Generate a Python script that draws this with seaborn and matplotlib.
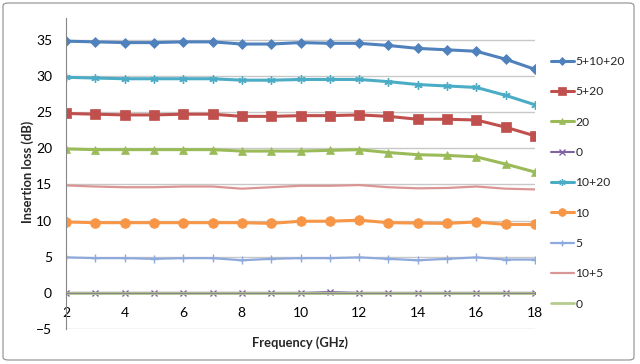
import numpy as np
import pandas as pd
import matplotlib
matplotlib.use("Agg")
import matplotlib.pyplot as plt
from matplotlib.patches import FancyBboxPatch
import seaborn as sns

# data
freq = [2, 3, 4, 5, 6, 7, 8, 9, 10, 11, 12, 13, 14, 15, 16, 17, 18]

s_5_10_20 = [34.8, 34.7, 34.6, 34.6, 34.7, 34.7, 34.4, 34.4, 34.6, 34.5, 34.5, 34.2, 33.8, 33.6, 33.4, 32.3, 30.9]
s_5_20 = [24.8, 24.7, 24.6, 24.6, 24.7, 24.7, 24.4, 24.4, 24.5, 24.5, 24.6, 24.4, 24.0, 24.0, 23.9, 22.9, 21.7]
s_20 = [19.9, 19.8, 19.8, 19.8, 19.8, 19.8, 19.6, 19.6, 19.6, 19.7, 19.8, 19.4, 19.1, 19.0, 18.8, 17.8, 16.7]
s_0_a = [0.0, 0.0, 0.0, 0.0, 0.0, 0.0, 0.0, 0.0, 0.0, 0.1, 0.0, 0.0, 0.0, 0.0, 0.0, 0.0, 0.0]
s_10_20 = [29.8, 29.7, 29.6, 29.6, 29.6, 29.6, 29.4, 29.4, 29.5, 29.5, 29.5, 29.2, 28.8, 28.6, 28.4, 27.3, 26.0]
s_10 = [9.8, 9.7, 9.7, 9.7, 9.7, 9.7, 9.7, 9.6, 9.9, 9.9, 10.05, 9.7, 9.65, 9.6, 9.8, 9.45, 9.45]
s_5 = [4.9, 4.8, 4.8, 4.7, 4.8, 4.8, 4.5, 4.7, 4.8, 4.8, 4.9, 4.7, 4.5, 4.7, 4.9, 4.6, 4.6]
s_10_5 = [14.85, 14.7, 14.6, 14.6, 14.7, 14.7, 14.4, 14.6, 14.8, 14.8, 14.9, 14.6, 14.45, 14.5, 14.7, 14.4, 14.3]
s_0_b = [0.0] * 17

labels = ["5+10+20", "5+20", "20", "0", "10+20", "10", "5", "10+5", "0"]
series = [s_5_10_20, s_5_20, s_20, s_0_a, s_10_20, s_10, s_5, s_10_5, s_0_b]
colors = ["#4F81BD", "#C0504D", "#9BBB59", "#8064A2", "#4BACC6",
          "#F79646", "#8EA9DB", "#D99694", "#B5CC8E"]
markers = ["D", "s", "^", "x", (6, 2, 0), "o", "+", None, None]
msizes = [5, 7, 6, 5, 6, 7, 6, 0, 0]
lwidths = [2.2, 2.2, 2.2, 1.5, 2.2, 2.2, 1.6, 1.6, 2.0]

sns.set_style("white")
plt.rcParams["font.family"] = ["Lato", "DejaVu Sans"]

fig = plt.figure(figsize=(6.4, 3.64), dpi=100)
ax = fig.add_axes([66 / 640, 1 - 329 / 364, 469 / 640, 311 / 364])

for lab, vals, c, m, ms, lw in zip(labels, series, colors, markers, msizes, lwidths):
    df = pd.DataFrame({"freq": freq, "loss": vals})
    sns.lineplot(data=df, x="freq", y="loss", ax=ax, color=c, marker=m,
                 markersize=ms, linewidth=lw, label=lab,
                 markeredgecolor=c, markeredgewidth=1.0 if m in ["x", "+", (6, 2, 0)] else 0.5)

ax.set_xlim(2, 18)
ax.set_ylim(-5, 38)
ax.set_xticks(range(2, 19, 2))
ax.set_yticks(range(-5, 36, 5))
for y in range(-5, 36, 5):
    ax.axhline(y, color="#C8C8C8", lw=1.0, zorder=0)

for s in ["top", "right"]:
    ax.spines[s].set_visible(False)
ax.spines["bottom"].set_position(("data", 0))
ax.spines["bottom"].set_color("#868686")
ax.spines["left"].set_color("#868686")
ax.spines["left"].set_linewidth(0.8)
ax.tick_params(axis="both", length=0, labelsize=10, colors="black")
ax.tick_params(axis="x", pad=10.5)
ax.tick_params(axis="y", pad=10)
ax.set_xlabel("")
ax.set_ylabel("")

fig.text(300 / 640, 1 - 343 / 364, "Frequency (GHz)", ha="center", va="center",
         fontsize=9.3, fontweight="bold")
fig.text(28 / 640, 1 - 172 / 364, "Insertion loss (dB)", ha="center", va="center",
         rotation=90, fontsize=9.3, fontweight="bold")

ax.legend(loc="upper left", bbox_to_anchor=(551 / 640, 1 - 56 / 364),
          bbox_transform=fig.transFigure, frameon=False, fontsize=8.7,
          handlelength=1.9, handletextpad=0.1, labelspacing=1.6,
          borderpad=0, borderaxespad=0, markerscale=0.8)

fig.patches.append(FancyBboxPatch((3 / 640, 4 / 364), 631 / 640, 357 / 364,
                                  boxstyle="round,pad=0,rounding_size=0.008",
                                  transform=fig.transFigure, fill=False,
                                  edgecolor="#8C8C8C", linewidth=0.8))

fig.savefig("out.png", dpi=100)
